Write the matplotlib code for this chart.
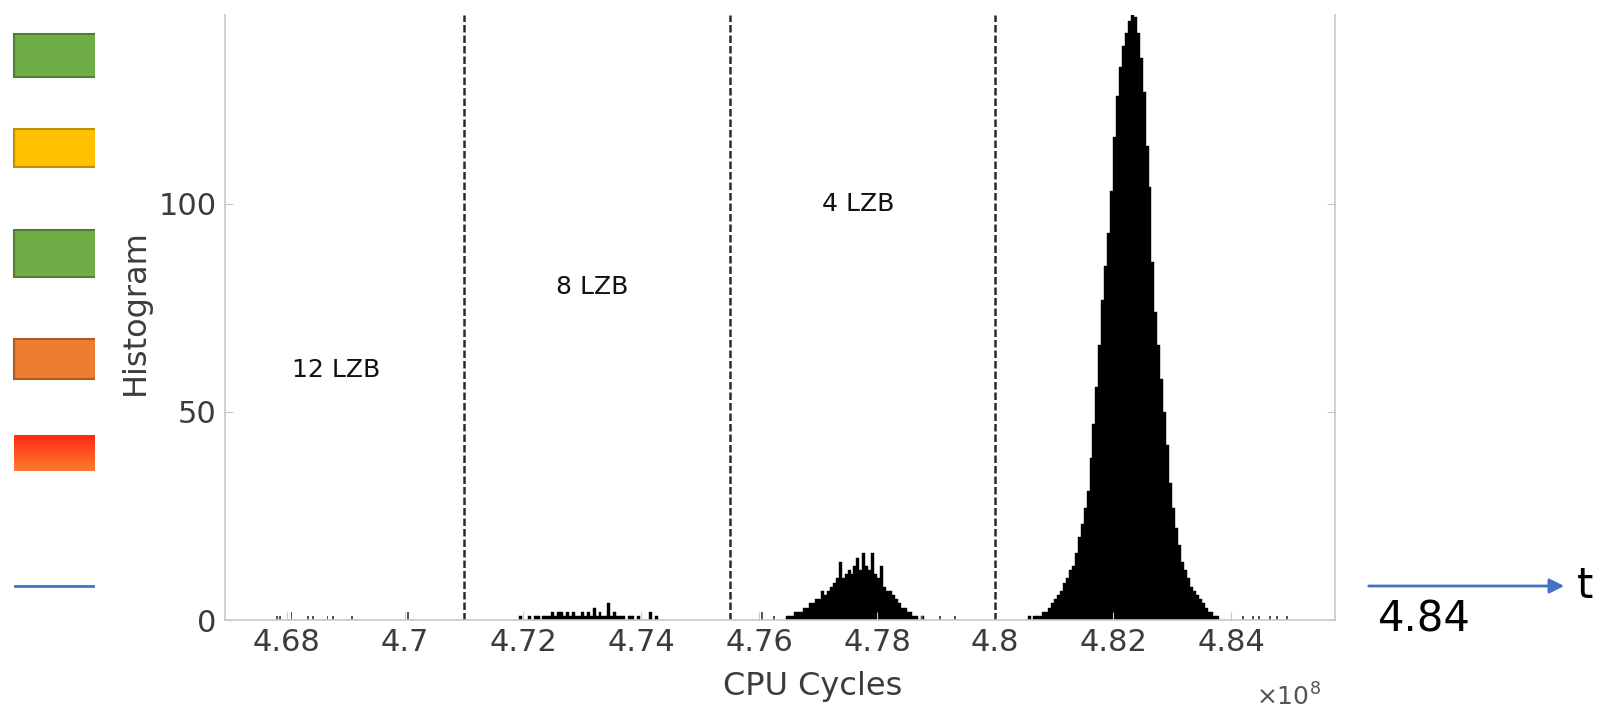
import numpy as np
import matplotlib
matplotlib.use("Agg")
import matplotlib.pyplot as plt
import matplotlib.patches as mpatches
from matplotlib.colors import LinearSegmentedColormap

plt.rcParams["font.family"] = ["DejaVu Sans"]

W, H = 1601, 708

# ── data (CPU cycles, in units of 1e8) ───────────────────────────────────────
BIN_W = 0.0005

# main peak (0 leading zero bits)
MAIN_START = 4.8050
MAIN_H = [0, 1, 0, 1, 1, 1, 2, 2, 3, 4, 5, 6, 7, 9, 10, 12, 13, 16, 20, 23,
          27, 31, 39, 47, 56, 66, 77, 85, 93, 103, 116, 126, 133, 138, 141,
          144, 147, 145, 141, 135, 127, 114, 104, 86, 74, 66, 58, 50, 42, 33,
          27, 22, 18, 14, 12, 10, 8, 7, 6, 5, 4, 3, 2, 2, 1, 1]

# 4 LZB cluster
LZB4_START = 4.7640
LZB4_H = [0, 1, 1, 1, 2, 2, 2, 3, 3, 4, 4, 5, 5, 7, 6, 7, 8, 9, 10, 14,
          10, 11, 12, 11, 13, 15, 12, 16, 13, 12, 16, 11, 10, 13, 8, 7, 7,
          6, 5, 4, 3, 3, 2, 2, 1, 1, 0, 1]

# 8 LZB cluster
LZB8_START = 4.7193
LZB8_H = [1, 0, 0, 1, 0, 1, 1, 0, 1, 1, 1, 2, 1, 2, 2, 1, 2, 1, 2, 1, 1, 2,
          1, 2, 1, 3, 1, 2, 1, 1, 4, 1, 2, 1, 1, 1, 0, 1, 1, 0, 1, 0, 0, 0,
          2, 0, 1]

# isolated counts (12 LZB region and tails)
SPARSE_X = [4.6783, 4.6788, 4.6808, 4.6836, 4.6844, 4.6869, 4.6878, 4.6910,
            4.7005, 4.7605, 4.7625, 4.7876, 4.7907, 4.7932, 4.8420, 4.8437,
            4.8447, 4.8466, 4.8478, 4.8495]
SPARSE_H = [1, 1, 2, 1, 1, 1, 1, 1, 2, 2, 1, 1, 1, 1, 1, 1, 1, 1, 1, 1]

DIVIDERS = [4.71, 4.755, 4.80]
LABELS = ["12 LZB", "8 LZB", "4 LZB"]
LABEL_X = [4.6883, 4.7317, 4.7768]
LABEL_Y = [60, 80, 100]

XTICKS = [4.68, 4.70, 4.72, 4.74, 4.76, 4.78, 4.80, 4.82, 4.84]
XTICKLABELS = ["4.68", "4.7", "4.72", "4.74", "4.76", "4.78", "4.8", "4.82", "4.84"]
YTICKS = [0, 50, 100]

fig = plt.figure(figsize=(W / 100, H / 100), dpi=100)

# ── slide decorations (pixel coords) ─────────────────────────────────────────
deco = fig.add_axes([0, 0, 1, 1], zorder=0)
deco.set_xlim(0, W)
deco.set_ylim(H, 0)
deco.axis("off")

boxes = [
    (34, 77, "#70AD47", "#507E32"),
    (129, 167, "#FFC000", "#BF9000"),
    (230, 277, "#70AD47", "#507E32"),
    (339, 379, "#ED7D31", "#AE5A21"),
]
for y0, y1, fc, ec in boxes:
    deco.add_patch(mpatches.Rectangle((14, y0), 100, y1 - y0, facecolor=fc,
                                      edgecolor=ec, linewidth=1.5))
red_cmap = LinearSegmentedColormap.from_list("redgrad", ["#FF2A10", "#FF7B30"])
deco.imshow(np.linspace(0, 1, 50).reshape(-1, 1), cmap=red_cmap, aspect="auto",
            extent=[14, 114, 471, 435], origin="upper", zorder=1)
# pasted picture covers the right part of the boxes
deco.add_patch(mpatches.Rectangle((95, 0), 1245, H, facecolor="white",
                                  edgecolor="none", zorder=3))
deco.plot([15, 95], [586, 586], color="#4472C4", lw=2)
deco.annotate("", xy=(1567, 586), xytext=(1366, 586),
              arrowprops=dict(arrowstyle="-|>", color="#4472C4", lw=2,
                              mutation_scale=22))
deco.text(1577, 586, "t", fontsize=30, va="center", ha="left")
deco.text(1378, 620, "4.84", fontsize=30, va="center", ha="left")
deco.plot([1317], [12], marker="^", color="#3A7D22", markersize=3)
deco.set_xlim(0, W)
deco.set_ylim(H, 0)

# ── histogram ────────────────────────────────────────────────────────────────
ax = fig.add_axes([225 / W, (H - 620) / H, 1110 / W, 605 / H], zorder=2)
ax.set_facecolor("white")

for start, heights in [(MAIN_START, MAIN_H), (LZB4_START, LZB4_H),
                       (LZB8_START, LZB8_H)]:
    centers = start + BIN_W / 2 + BIN_W * np.arange(len(heights))
    ax.bar(centers, heights, width=BIN_W, color="black", edgecolor="black",
           linewidth=0.3)
ax.bar(SPARSE_X, SPARSE_H, width=BIN_W * 0.5, color="#555555", linewidth=0)

for d in DIVIDERS:
    ax.axvline(d, color="#2a2a2a", linestyle=(0, (3, 1.2)), linewidth=1.8)

for lbl, lx, ly in zip(LABELS, LABEL_X, LABEL_Y):
    ax.text(lx, ly, lbl, fontsize=18, ha="center", va="center", color="#111111")

ax.set_xlim(4.6695, 4.8576)
ax.set_ylim(0, 145.4)
ax.set_xticks(XTICKS)
ax.set_xticklabels(XTICKLABELS)
ax.set_yticks(YTICKS)
ax.tick_params(direction="in", length=6, color="#c8c8c8", labelcolor="#3c3c3c",
               labelsize=22, right=True, pad=6)
for side in ["left", "bottom", "right"]:
    ax.spines[side].set_color("#c8c8c8")
    ax.spines[side].set_linewidth(1.2)
ax.spines["top"].set_visible(False)

ax.set_xlabel("CPU Cycles", fontsize=23, color="#3c3c3c")
ax.xaxis.set_label_coords(0.529, -0.110, transform=ax.transAxes)
ax.xaxis.label.set_va("center")
ax.set_ylabel("Histogram", fontsize=23, color="#3c3c3c")
ax.yaxis.set_label_coords(-0.081, 0.509, transform=ax.transAxes)
ax.yaxis.label.set_va("center")
ax.text(0.987, -0.127, r"$\times10^{8}$", transform=ax.transAxes, fontsize=18,
        color="#555555", ha="right", va="center")

fig.savefig("out.png", dpi=100)
